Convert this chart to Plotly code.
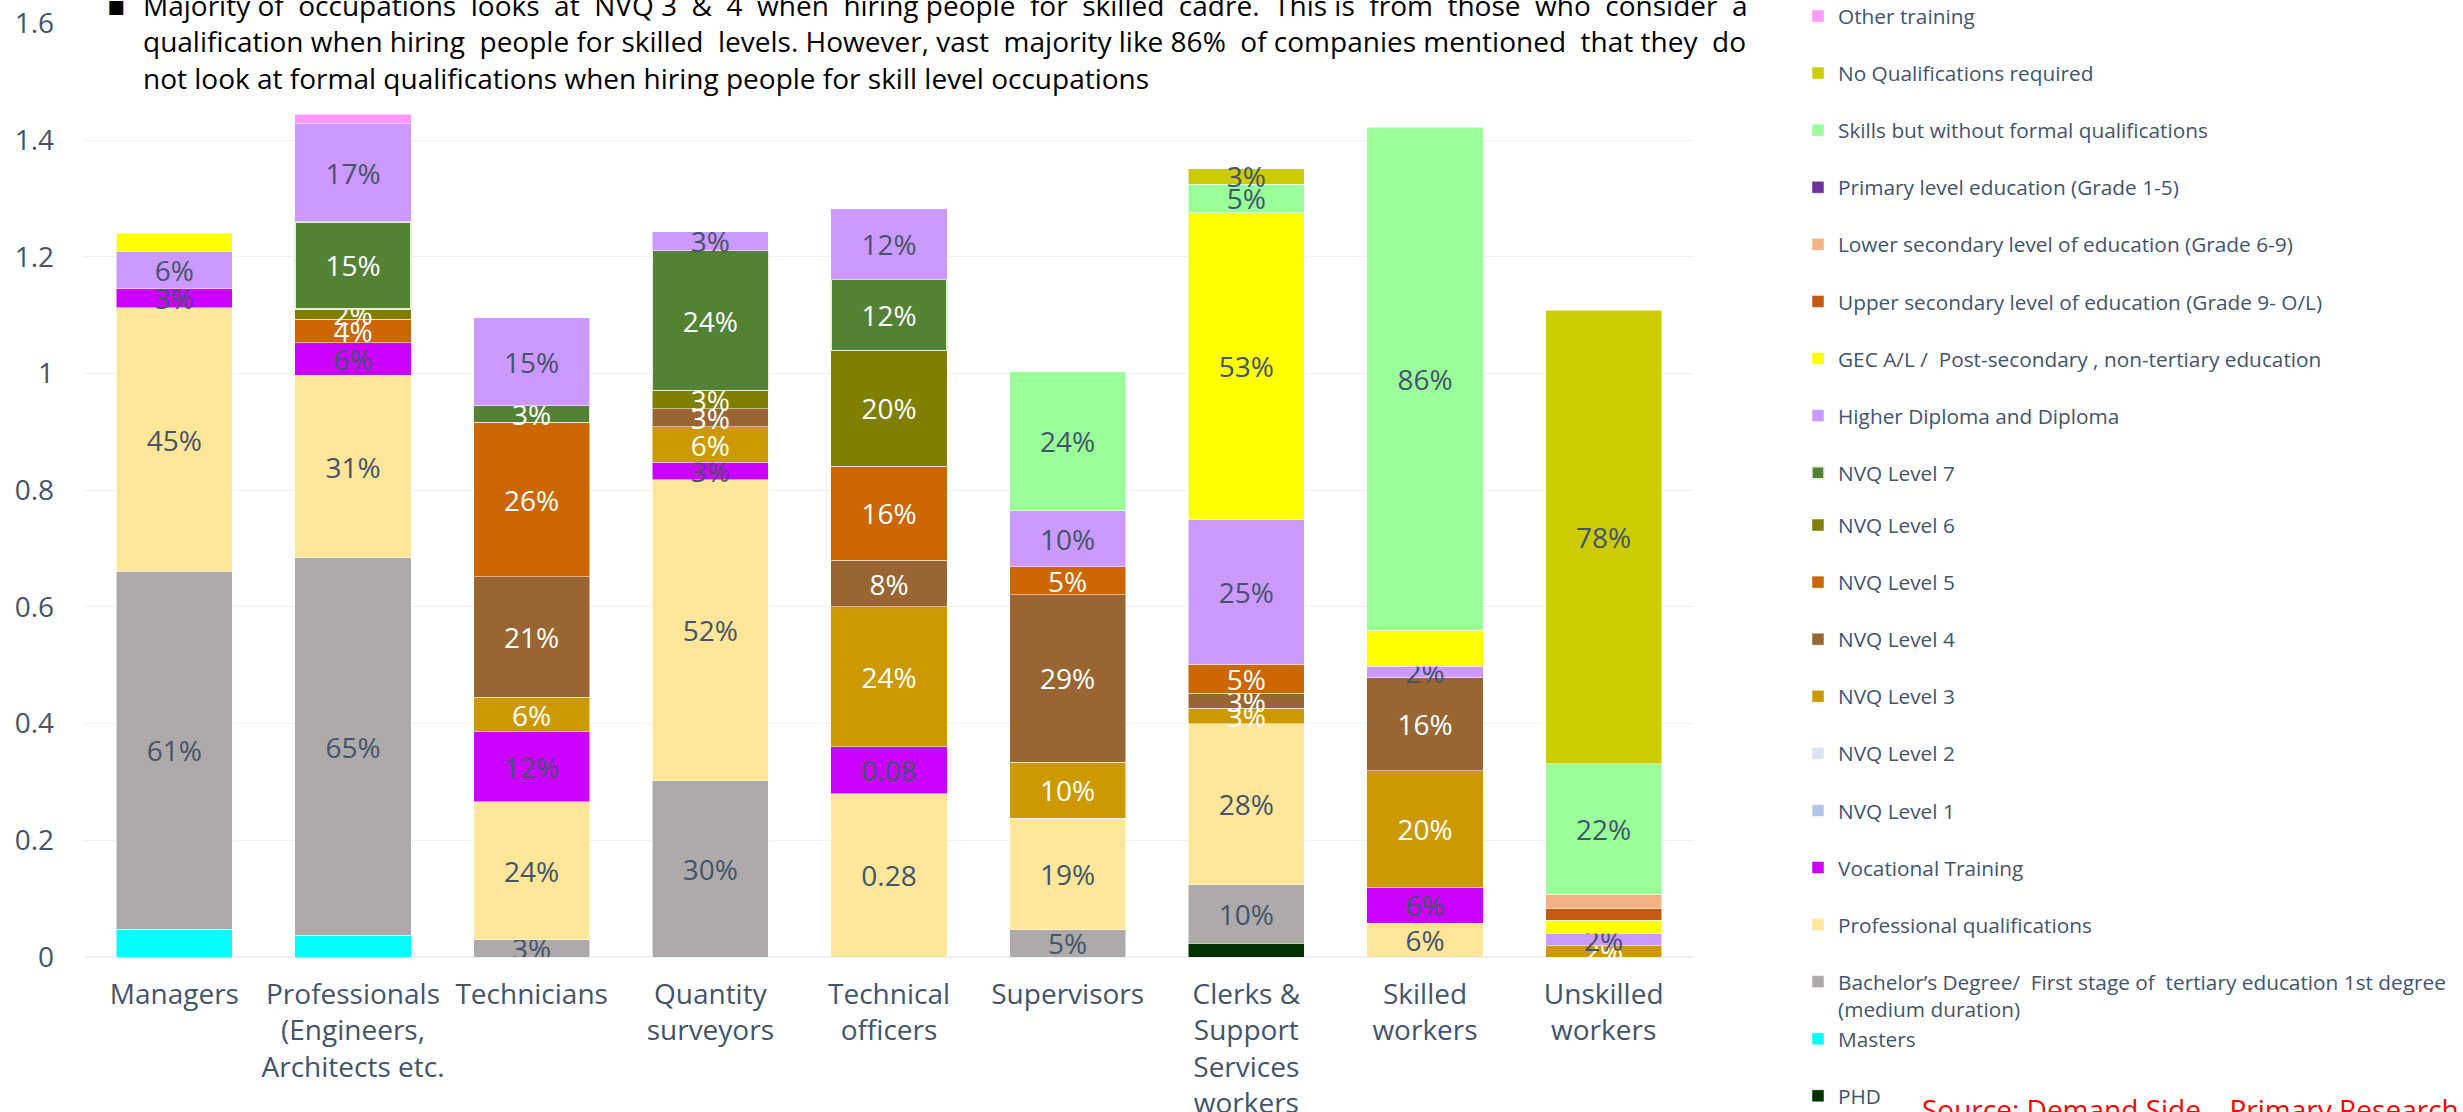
import plotly.graph_objects as go

# ---------------------------------------------------------------- data
CATEGORIES = [
    "Managers",
    "Professionals (Engineers, Architects etc.",
    "Technicians",
    "Quantity surveyors",
    "Technical officers",
    "Supervisors",
    "Clerks & Support Services workers",
    "Skilled workers",
    "Unskilled workers",
]

TICK_LABELS = [
    "Managers",
    "Professionals<br>(Engineers,<br>Architects etc.",
    "Technicians",
    "Quantity<br>surveyors",
    "Technical<br>officers",
    "Supervisors",
    "Clerks &<br>Support<br>Services<br>workers",
    "Skilled<br>workers",
    "Unskilled<br>workers",
]

Y_TICKS = [0, 0.2, 0.4, 0.6, 0.8, 1, 1.2, 1.4, 1.6]

# share of companies by qualification, stacked bottom -> top
PHD = [None, None, None, None, None, None, 0.024, None, None]
MASTERS = [0.048, 0.037, None, None, None, None, None, None, None]
BACHELORS = [0.613, 0.647, 0.030, 0.302, None, 0.047, 0.100, None, None]
PROFESSIONAL = [0.452, 0.313, 0.236, 0.516, 0.28, 0.191, 0.276, 0.058, None]
VOCATIONAL = [0.033, 0.056, 0.120, 0.030, 0.08, None, None, 0.061, None]
NVQ1 = [None] * 9
NVQ2 = [None] * 9
NVQ3 = [None, None, 0.059, 0.061, 0.240, 0.096, 0.026, 0.200, 0.019]
NVQ4 = [None, None, 0.207, 0.031, 0.080, 0.287, 0.026, 0.160, None]
NVQ5 = [None, 0.040, 0.264, None, 0.161, 0.048, 0.050, None, None]
NVQ6 = [None, 0.018, None, 0.031, 0.199, None, None, None, None]
NVQ7 = [None, 0.149, 0.029, 0.240, 0.121, None, None, None, None]
HIGHER_DIPLOMA = [0.064, 0.168, 0.151, 0.032, 0.122, 0.096, 0.248, 0.019, 0.022]
GEC_AL = [0.031, None, None, None, None, None, 0.526, 0.062, 0.022]
UPPER_SECONDARY = [None, None, None, None, None, None, None, None, 0.021]
LOWER_SECONDARY = [None, None, None, None, None, None, None, None, 0.024]
PRIMARY = [None] * 9
SKILLS_NO_QUAL = [None, None, None, None, None, 0.238, 0.049, 0.862, 0.223]
NO_QUAL_REQUIRED = [None, None, None, None, None, None, 0.026, None, 0.778]
OTHER_TRAINING = [None, 0.017, None, None, None, None, None, None, None]

DARK = "#44546A"
LIGHT = "#FFFFFF"

# (legend name, values, fill colour, label colour)
SERIES = [
    ("PHD", PHD, "#003300", DARK),
    ("Masters", MASTERS, "#00FFFF", DARK),
    ("Bachelor\u2019s Degree/  First stage of  tertiary education 1st degree<br>(medium duration)",
     BACHELORS, "#AEAAAA", DARK),
    ("Professional qualifications", PROFESSIONAL, "#FFE699", DARK),
    ("Vocational Training", VOCATIONAL, "#CC00FF", DARK),
    ("NVQ Level 1", NVQ1, "#B4C7E7", DARK),
    ("NVQ Level 2", NVQ2, "#DAE3F3", DARK),
    ("NVQ Level 3", NVQ3, "#CC9900", LIGHT),
    ("NVQ Level 4", NVQ4, "#996633", LIGHT),
    ("NVQ Level 5", NVQ5, "#CC6600", LIGHT),
    ("NVQ Level 6", NVQ6, "#808000", LIGHT),
    ("NVQ Level 7", NVQ7, "#548235", LIGHT),
    ("Higher Diploma and Diploma", HIGHER_DIPLOMA, "#CC99FF", DARK),
    ("GEC A/L /  Post-secondary , non-tertiary education", GEC_AL, "#FFFF00", DARK),
    ("Upper secondary level of education (Grade 9- O/L)", UPPER_SECONDARY, "#C55A11", DARK),
    ("Lower secondary level of education (Grade 6-9)", LOWER_SECONDARY, "#F4B183", DARK),
    ("Primary level education (Grade 1-5)", PRIMARY, "#7030A0", DARK),
    ("Skills but without formal qualifications", SKILLS_NO_QUAL, "#99FF99", DARK),
    ("No Qualifications required", NO_QUAL_REQUIRED, "#CCCC00", DARK),
    ("Other training", OTHER_TRAINING, "#FF99FF", DARK),
]

# segments drawn without a value label
UNLABELLED_SERIES = {"PHD", "Masters", "Other training",
                     "Upper secondary level of education (Grade 9- O/L)",
                     "Lower secondary level of education (Grade 6-9)"}
UNLABELLED_POINTS = {
    ("GEC A/L /  Post-secondary , non-tertiary education", "Managers"),
    ("GEC A/L /  Post-secondary , non-tertiary education", "Skilled workers"),
    ("GEC A/L /  Post-secondary , non-tertiary education", "Unskilled workers"),
}
# segments whose label shows the plain number instead of a percentage
PLAIN_NUMBER_POINTS = {
    ("Professional qualifications", "Technical officers"),
    ("Vocational Training", "Technical officers"),
}

NOTE_LINES = [
    "Majority of occupations looks at NVQ 3 & 4 when hiring people for skilled cadre. "
    "This is from those who consider a",
    "qualification when hiring people for skilled levels. However, vast majority like 86% "
    "of companies mentioned that they do",
    "not look at formal qualifications when hiring people for skill level occupations",
]
NOTE_EXTRA_SPACES = [17, 6, 0]   # non-breaking spaces spread over each line to justify it

SOURCE = "Source: Demand Side \u2013 Primary Research"

# ---------------------------------------------------------------- layout geometry
W, H = 2463, 1112
ML, MR = 85, 770                     # horizontal plot margins (px)
AXIS_TOP, AXIS_BOTTOM = 23.6, 957    # pixel rows of y = 1.6 and y = 0
PW = W - ML - MR
LOWER_LEGEND_FROM = 11               # traces 0..10 go to the lower legend block


def px_x(x):
    return (x - ML) / PW


def px_y(y):
    return (H - y) / H


def labels_for(name, values):
    out = []
    for cat, v in zip(CATEGORIES, values):
        if v is None or name in UNLABELLED_SERIES or (name, cat) in UNLABELLED_POINTS:
            out.append("")
        elif (name, cat) in PLAIN_NUMBER_POINTS:
            out.append(f"{v:g}")
        else:
            out.append(f"{v:.0%}")
    return out


def justify(line, extra):
    words = line.split(" ")
    gaps = len(words) - 1
    parts = [words[0]]
    for i, w in enumerate(words[1:]):
        n = extra * (i + 1) // gaps - extra * i // gaps
        parts.append(" " + "\u00a0" * n + w)
    return "".join(parts)


def legend_name(name, is_last):
    # every entry takes two text lines, so short names get an empty second line
    if "<br>" in name or is_last:
        return name
    return name + "<br> "


fig = go.Figure()
for i, (name, values, color, text_color) in enumerate(SERIES):
    line = dict(color="#E2F0D9", width=1.5) if name == "NVQ Level 7" else dict(color="white", width=0.5)
    fig.add_trace(go.Bar(
        name=legend_name(name, i == 0),
        legend="legend2" if i < LOWER_LEGEND_FROM else "legend",
        x=CATEGORIES,
        y=values,
        marker=dict(color=color, line=line),
        text=labels_for(name, values),
        textposition="inside",
        insidetextanchor="middle",
        textangle=0,
        textfont=dict(family="Open Sans", size=28, color=text_color),
        hoverinfo="skip",
    ))

legend_style = dict(
    x=px_x(1798), xanchor="left", yanchor="top", valign="top",
    font=dict(family="Open Sans", size=20.8, color=DARK),
    bgcolor="rgba(0,0,0,0)", tracegroupgap=0, traceorder="reversed",
)

fig.update_layout(
    template="plotly_white",
    width=W, height=H,
    margin=dict(l=ML, r=MR, t=0, b=0, autoexpand=False),
    barmode="stack",
    bargap=0.35,
    font=dict(family="Open Sans", size=28, color=DARK),
    uniformtext=dict(minsize=28, mode="show"),
    legend=dict(legend_style, y=px_y(-4)),
    legend2=dict(legend_style, y=px_y(505)),
    xaxis=dict(
        tickmode="array", tickvals=CATEGORIES, ticktext=TICK_LABELS,
        tickfont=dict(size=28, color=DARK),
        ticklabelstandoff=18,
        showgrid=False,
    ),
    yaxis=dict(
        domain=[(H - AXIS_BOTTOM) / H, (H - AXIS_TOP) / H],
        range=[0, 1.6], tickmode="array", tickvals=Y_TICKS,
        tickfont=dict(size=28, color=DARK),
        ticklabelstandoff=30,
    ),
)

# white panel behind the note so the top gridline stays hidden there
fig.add_shape(type="rect", xref="paper", yref="paper",
              x0=px_x(88), x1=px_x(1760), y0=px_y(0), y1=px_y(32),
              fillcolor="white", line=dict(width=0), layer="above")

fig.add_annotation(
    xref="paper", yref="paper", x=px_x(141), y=px_y(42), xanchor="left", yanchor="middle",
    text="<br>".join(justify(l, n) for l, n in zip(NOTE_LINES, NOTE_EXTRA_SPACES)),
    align="left", showarrow=False,
    font=dict(family="Open Sans", size=28, color="black"),
)
fig.add_annotation(
    xref="paper", yref="paper", x=px_x(128), y=px_y(6), xanchor="right", yanchor="middle",
    text="\u25aa", showarrow=False,
    font=dict(family="DejaVu Sans", size=28, color="black"),
)
fig.add_annotation(
    xref="paper", yref="paper", x=px_x(1920), y=px_y(1088), xanchor="left", yanchor="top",
    text=SOURCE, showarrow=False,
    font=dict(family="Open Sans", size=28, color="#FF0000"),
)

fig.write_html("out.html")
